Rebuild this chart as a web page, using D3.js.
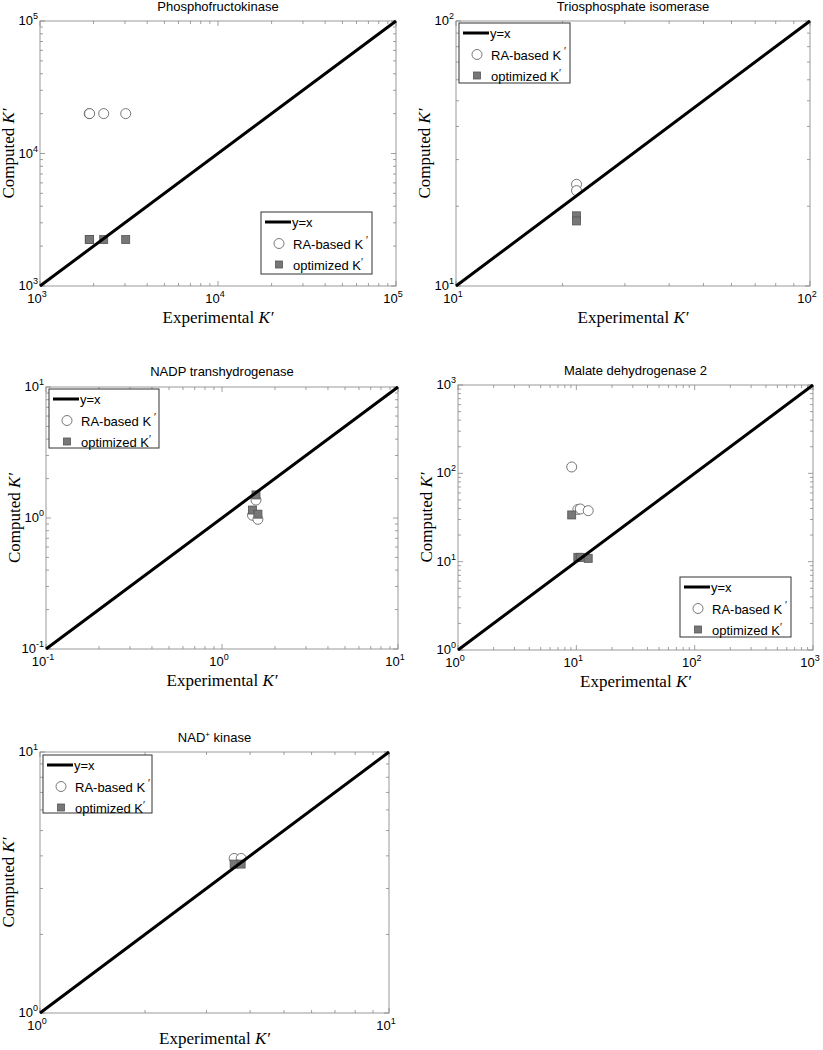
<!DOCTYPE html>
<html>
<head>
<meta charset="utf-8">
<script src="https://cdn.jsdelivr.net/npm/d3@7"></script>
<style>
  body { margin: 0; background: #fff; }
  svg { display: block; }
</style>
</head>
<body>
<div id="chart"></div>
<script>
// values (x = experimental K', y = computed K')
var pfkExp = [1890, 1900, 2280, 3030];
var pfkRA = [20000, 20000, 20000, 20000];
var pfkOpt = [2240, 2240, 2240, 2240];

var tpiExp = [21.9, 21.9];
var tpiRA = [24.2, 22.9];
var tpiOpt = [18.4, 17.6];

var nadpExp = [1.56, 1.49, 1.60];
var nadpRA = [1.37, 1.05, 0.977];
var nadpOpt = [1.50, 1.15, 1.07];

var mdhExp = [9.14, 10.3, 10.8, 12.6];
var mdhRA = [118, 39.0, 39.5, 37.8];
var mdhOpt = [33.8, 11.2, 11.2, 10.9];

var nadkExp = [3.60, 3.77];
var nadkRA = [3.91, 3.91];
var nadkOpt = [3.72, 3.72];

var titles = ["Phosphofructokinase", "Triosphosphate isomerase", "NADP transhydrogenase",
              "Malate dehydrogenase 2", "NAD|+| kinase"];
var domains = [[1e3, 1e5], [10, 100], [0.1, 10], [1, 1000], [1, 10]];
var legendNames = ["y=x", "RA-based K", "optimized K"];

var chart_width = 823;
var chart_height = 1050;

// panel boxes and legend positions
var panels = [
  { x0: 40, x1: 396, y0: 21, y1: 286, titleY: 6, lg: [261, 212, 111, 62], exp: pfkExp, ra: pfkRA, opt: pfkOpt },
  { x0: 456, x1: 810, y0: 21, y1: 286, titleY: 6, lg: [459, 23, 111, 60], exp: tpiExp, ra: tpiRA, opt: tpiOpt },
  { x0: 46, x1: 398, y0: 387, y1: 649, titleY: 371, lg: [49, 389, 110, 59], exp: nadpExp, ra: nadpRA, opt: nadpOpt },
  { x0: 458, x1: 813, y0: 385, y1: 650, titleY: 370, lg: [680, 577, 111, 60], exp: mdhExp, ra: mdhRA, opt: mdhOpt },
  { x0: 40, x1: 389, y0: 752, y1: 1013, titleY: 737, lg: [43, 755, 109, 58], exp: nadkExp, ra: nadkRA, opt: nadkOpt }
];

var sans = "'Liberation Sans', Arial, sans-serif";
var serif = "'Liberation Serif', 'Times New Roman', serif";

var svg = d3.select('#chart')
    .append('svg')
    .attr('width', chart_width)
    .attr('height', chart_height);

function addPow(sel, v) {
    var e = Math.round(Math.log10(v));
    sel.append('tspan').text('10');
    sel.append('tspan').attr('dy', -6).attr('font-size', 9).text(e);
}

panels.forEach(function (p, i) {
    var x = d3.scaleLog().domain(domains[i]).range([p.x0, p.x1]);
    var y = d3.scaleLog().domain(domains[i]).range([p.y1, p.y0]);
    var g = svg.append('g');

    // frame
    g.append('rect')
        .attr('x', p.x0).attr('y', p.y0)
        .attr('width', p.x1 - p.x0).attr('height', p.y1 - p.y0)
        .attr('fill', 'none').attr('stroke', '#999').attr('stroke-width', 1);

    // ticks on all four sides, pointing inwards
    var ticks = x.ticks();
    var isMajor = function (v) { return Math.abs(Math.log10(v) - Math.round(Math.log10(v))) < 1e-6; };
    ticks.forEach(function (v) {
        var len = isMajor(v) ? 5 : 3;
        var tx = x(v), ty = y(v);
        g.append('line').attr('x1', tx).attr('x2', tx).attr('y1', p.y1).attr('y2', p.y1 - len);
        g.append('line').attr('x1', tx).attr('x2', tx).attr('y1', p.y0).attr('y2', p.y0 + len);
        g.append('line').attr('y1', ty).attr('y2', ty).attr('x1', p.x0).attr('x2', p.x0 + len);
        g.append('line').attr('y1', ty).attr('y2', ty).attr('x1', p.x1).attr('x2', p.x1 - len);
    });
    g.selectAll('line').attr('stroke', '#888').attr('stroke-width', 0.8);

    var majors = ticks.filter(isMajor);
    majors.forEach(function (v) {
        var t = g.append('text')
            .attr('x', x(v) - 3).attr('y', p.y1 + 17)
            .attr('text-anchor', 'middle')
            .attr('font-family', sans).attr('font-size', 13);
        addPow(t, v);
        var t2 = g.append('text')
            .attr('x', p.x0 - 2).attr('y', y(v) + 4)
            .attr('text-anchor', 'end')
            .attr('font-family', sans).attr('font-size', 13);
        addPow(t2, v);
    });

    // title
    var parts = titles[i].split('|');
    var tt = g.append('text')
        .attr('x', (p.x0 + p.x1) / 2).attr('y', p.titleY + 5)
        .attr('text-anchor', 'middle')
        .attr('font-family', sans).attr('font-size', 13);
    tt.append('tspan').text(parts[0]);
    if (parts.length > 1) {
        tt.append('tspan').attr('dy', -5).attr('font-size', 8).text(parts[1]);
        tt.append('tspan').attr('dy', 5).text(parts[2]);
    }

    // axis labels
    var xl = g.append('text')
        .attr('x', (p.x0 + p.x1) / 2).attr('y', Math.min(p.y1 + 37, chart_height - 6))
        .attr('text-anchor', 'middle')
        .attr('font-family', serif).attr('font-size', 17);
    xl.append('tspan').text('Experimental ');
    xl.append('tspan').attr('font-style', 'italic').text('K\u2032');

    var yl = g.append('text')
        .attr('transform', 'translate(' + (p.x0 - 26) + ',' + ((p.y0 + p.y1) / 2) + ') rotate(-90)')
        .attr('text-anchor', 'middle')
        .attr('font-family', serif).attr('font-size', 17);
    yl.append('tspan').text('Computed ');
    yl.append('tspan').attr('font-style', 'italic').text('K\u2032');

    // markers
    g.selectAll('circle.ra')
        .data(p.exp)
        .enter()
        .append('circle')
        .attr('class', 'ra')
        .attr('cx', function (d) { return x(d); })
        .attr('cy', function (d, j) { return y(p.ra[j]); })
        .attr('r', 5)
        .attr('fill', '#fff')
        .attr('stroke', '#555')
        .attr('stroke-width', 0.8);

    g.selectAll('rect.opt')
        .data(p.exp)
        .enter()
        .append('rect')
        .attr('class', 'opt')
        .attr('x', function (d) { return x(d) - 4; })
        .attr('y', function (d, j) { return y(p.opt[j]) - 4; })
        .attr('width', 8)
        .attr('height', 8)
        .attr('fill', '#777')
        .attr('stroke', '#555')
        .attr('stroke-width', 0.8);

    // y = x
    g.append('line')
        .attr('x1', x(domains[i][0])).attr('y1', y(domains[i][0]))
        .attr('x2', x(domains[i][1])).attr('y2', y(domains[i][1]))
        .attr('stroke', '#000').attr('stroke-width', 3);

    // legend
    var lx = p.lg[0], ly = p.lg[1];
    var lg = g.append('g');
    lg.append('rect')
        .attr('x', lx).attr('y', ly).attr('width', p.lg[2]).attr('height', p.lg[3])
        .attr('fill', '#fff').attr('stroke', '#333').attr('stroke-width', 1);
    var rows = [ly + 10, ly + 31.5, ly + 52.5];
    lg.append('line')
        .attr('x1', lx + 4).attr('x2', lx + 30).attr('y1', rows[0]).attr('y2', rows[0])
        .attr('stroke', '#000').attr('stroke-width', 3);
    lg.append('circle')
        .attr('cx', lx + 18).attr('cy', rows[1]).attr('r', 5)
        .attr('fill', '#fff').attr('stroke', '#555').attr('stroke-width', 0.8);
    lg.append('rect')
        .attr('x', lx + 14.5).attr('y', rows[2] - 3.5).attr('width', 7).attr('height', 7)
        .attr('fill', '#777').attr('stroke', '#555').attr('stroke-width', 0.8);
    legendNames.forEach(function (name, k) {
        var t = lg.append('text')
            .attr('x', lx + (k === 0 ? 31 : 32)).attr('y', rows[k] + 5)
            .attr('font-family', sans).attr('font-size', 13);
        t.append('tspan').text(name);
        if (k === 1) t.append('tspan').attr('dx', 3).attr('dy', -5).attr('font-size', 10).text('\u2032');
        if (k === 2) t.append('tspan').attr('dx', 0).attr('dy', -4).attr('font-size', 10).text('\u2032');
    });
});
</script>
</body>
</html>
